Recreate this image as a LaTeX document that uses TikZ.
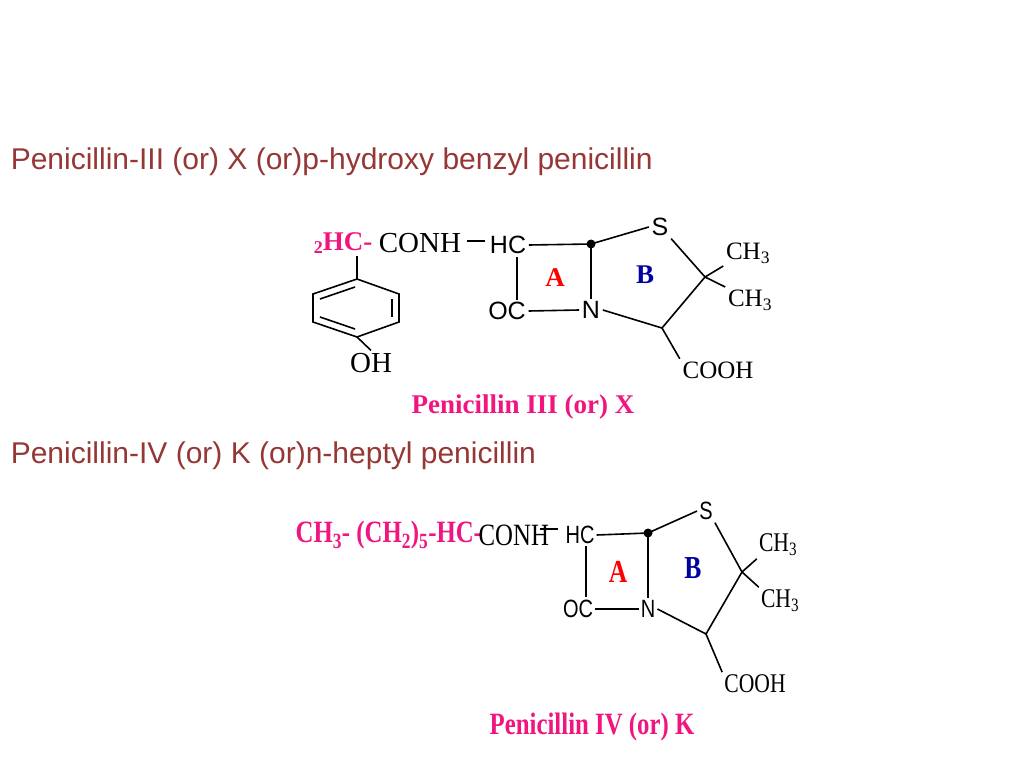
\documentclass[tikz,border=0pt]{standalone}
\usepackage{fontspec}
\setmainfont{Liberation Serif}
\newfontfamily\arialf{Liberation Sans}
\definecolor{ttl}{HTML}{953735}
\definecolor{pk}{HTML}{F0157F}
\definecolor{rA}{HTML}{FF0000}
\definecolor{bB}{HTML}{0000A0}
\begin{document}
\begin{tikzpicture}[x=1pt,y=-1pt,line width=1.6pt,
  every node/.style={inner sep=2pt},
  ttlt/.style={font=\arialf\fontsize{30}{34}\selectfont,text=ttl,anchor=west,inner sep=0pt},
  sa/.style={font=\arialf\fontsize{25}{28}\selectfont},
  se/.style={font=\fontsize{29}{32}\selectfont},
  sm/.style={font=\fontsize{25}{28}\selectfont},
  cond/.style={xscale=0.8,transform shape},
  lbl/.style={font=\bfseries\fontsize{27}{30}\selectfont}]
\useasboundingbox (0,0) rectangle (1024,768);
\node[ttlt] (t1) at (10,162) {Penicillin-III (or) X (or)p-hydroxy benzyl penicillin};
\node[ttlt] (t2) at (10,456) {Penicillin-IV (or) K (or)n-heptyl penicillin};
% ---------- top structure
\node[anchor=west,inner sep=0pt,text=pk,font=\bfseries\fontsize{27}{30}\selectfont] (ph) at (313,243) {\raisebox{-0.3ex}{\fontsize{18}{18}\selectfont 2}HC-};
\node[anchor=west,se,inner sep=0pt] (conh) at (378,243) {CONH};
\node[sa] (hc) at (508,245) {HC};
\node[sa] (oc) at (507,311) {OC};
\node[sa] (n) at (591,310) {N};
\node[sa] (s) at (660,227) {S};
\node[sm] (m1) at (748,253) {CH\textsubscript{3}};
\node[sm] (m2) at (750,300) {CH\textsubscript{3}};
\node[sm] (co) at (718,370) {COOH};
\node[se] (oh) at (371,363) {OH};
\node[lbl,text=rA] (a) at (555,278) {A};
\node[lbl,text=bB] (b) at (645,275) {B};
\node[lbl,text=pk] (c1) at (523,407) {Penicillin III (or) X};
\coordinate (d1) at (591,244);
\coordinate (q1) at (705,277);
\coordinate (k1) at (662,328);
\fill (d1) circle (4.5);
\draw (467,241) -- (485,241);
\draw (hc.east) -- (d1);
\draw (517,257) -- (517,300);
\draw (oc.east) -- (n.west);
\draw (d1) -- (n.north);
\draw (d1) -- (s.west);
\draw (s.south east) -- (q1);
\draw (q1) -- (m1.south west);
\draw (q1) -- (m2.north west);
\draw (n.east) -- (k1) -- (q1);
\draw (k1) -- (co.north west);
% benzene
\coordinate (r1) at (357,279); \coordinate (r2) at (399,294); \coordinate (r3) at (399,322);
\coordinate (r4) at (357,337); \coordinate (r5) at (313,322); \coordinate (r6) at (313,294);
\draw (357,256) -- (r1);
\draw (r1) -- (r2) -- (r3) -- (r4) -- (r5) -- (r6) -- cycle;
\draw (392,299) -- (392,317);
\draw (320,299) -- (355,287);
\draw (320,317) -- (355,329);
\draw (r4) -- (oh.north);
% ---------- bottom structure
\node[anchor=west,cond,inner sep=0pt,text=pk,font=\bfseries\fontsize{31}{34}\selectfont] (pk2) at (295,535) {CH\textsubscript{3}- (CH\textsubscript{2})\textsubscript{5}-HC-};
\node[anchor=west,cond,inner sep=0pt,font=\fontsize{31}{34}\selectfont] (conh2) at (478,535) {CONH};
\node[sa,cond] (hcb) at (580,535) {HC};
\node[sa,cond] (ocb) at (578,609) {OC};
\node[sa,cond] (nb) at (648,609) {N};
\node[sa,cond] (sb) at (706,511) {S};
\node[sm,cond,font=\fontsize{27}{30}\selectfont] (m3) at (778,545) {CH\textsubscript{3}};
\node[sm,cond,font=\fontsize{27}{30}\selectfont] (m4) at (780,601) {CH\textsubscript{3}};
\node[sm,cond,font=\fontsize{27}{30}\selectfont] (cob) at (755,684) {COOH};
\node[lbl,cond,text=rA,font=\bfseries\fontsize{32}{34}\selectfont] (a2) at (618,572) {A};
\node[lbl,cond,text=bB,font=\bfseries\fontsize{32}{34}\selectfont] (b2) at (693,568) {B};
\node[lbl,cond,text=pk,font=\bfseries\fontsize{31}{34}\selectfont] (c2) at (592,727) {Penicillin IV (or) K};
\coordinate (d2) at (648,533);
\coordinate (q2) at (742,572);
\coordinate (k2) at (706,634);
\fill (d2) circle (4.5);
\draw (540,529) -- (558,529);
\draw (hcb.east) -- (d2);
\draw (586,546) -- (586,597);
\draw (ocb.east) -- (nb.west);
\draw (d2) -- (nb.north);
\draw (d2) -- (sb.west);
\draw (sb.south east) -- (q2);
\draw (q2) -- (m3.south west);
\draw (q2) -- (m4.north west);
\draw (nb.east) -- (k2) -- (q2);
\draw (k2) -- (cob.north west);
\end{tikzpicture}
\end{document}
